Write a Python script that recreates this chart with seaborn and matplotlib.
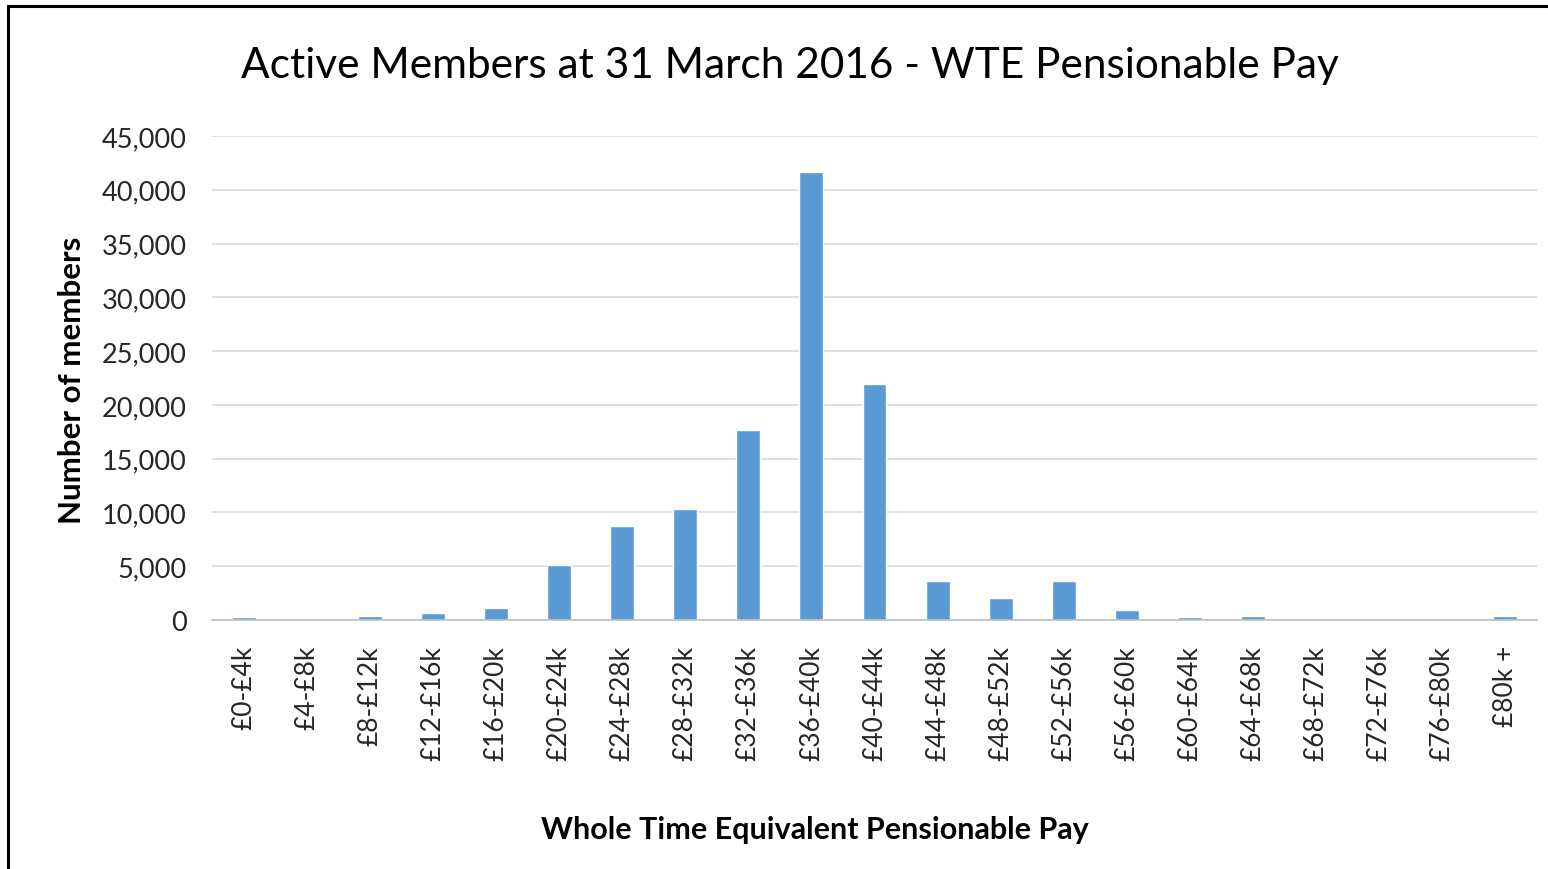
import matplotlib
matplotlib.use("Agg")
import matplotlib.pyplot as plt
import matplotlib.ticker as mticker
import pandas as pd
import seaborn as sns

bands = [
    "£0-£4k", "£4-£8k", "£8-£12k", "£12-£16k", "£16-£20k", "£20-£24k", "£24-£28k",
    "£28-£32k", "£32-£36k", "£36-£40k", "£40-£44k", "£44-£48k", "£48-£52k",
    "£52-£56k", "£56-£60k", "£60-£64k", "£64-£68k", "£68-£72k", "£72-£76k",
    "£76-£80k", "£80k +",
]
members = [
    250, 30, 350, 650, 1100, 5100, 8750, 10300, 17650, 41650, 21950,
    3600, 2000, 3600, 950, 250, 350, 0, 0, 0, 350,
]

df = pd.DataFrame({"band": bands, "members": members})

sns.set_theme(style="white")
plt.rcParams["font.family"] = ["Lato", "DejaVu Sans"]

fig = plt.figure(figsize=(15.48, 8.7), dpi=100)
ax = fig.add_axes([212 / 1548, 1 - 621 / 870, (1537 - 212) / 1548, (621 - 137) / 870])

sns.barplot(data=df, x="band", y="members", color="#5b9bd5", width=0.38,
            saturation=1, ax=ax)

ax.set_ylim(0, 45000)
ax.yaxis.set_major_locator(mticker.MultipleLocator(5000))
ax.yaxis.set_major_formatter(mticker.FuncFormatter(lambda v, p: f"{int(v):,}"))
ax.grid(axis="y", color="#d9d9d9", linewidth=1.2)
ax.set_axisbelow(True)
for s in ["top", "right", "left"]:
    ax.spines[s].set_visible(False)
ax.spines["bottom"].set_color("#bfbfbf")
ax.spines["bottom"].set_linewidth(1.2)

ax.tick_params(axis="y", labelsize=19.5, colors="#262626", length=0, pad=18)
ax.tick_params(axis="x", labelsize=19, colors="#262626", length=0, pad=18,
               labelrotation=90)

ax.set_xlabel("")
ax.set_ylabel("")
fig.text(72 / 1548, 1 - 380 / 870, "Number of members", rotation=90,
         ha="center", va="center", fontsize=22.5, fontweight="bold", color="#000000")
fig.text(815 / 1548, 1 - 830 / 870, "Whole Time Equivalent Pensionable Pay",
         ha="center", va="center", fontsize=22, fontweight="bold", color="#000000")
fig.text(790 / 1548, 1 - 66 / 870, "Active Members at 31 March 2016 - WTE Pensionable Pay",
         ha="center", va="center", fontsize=30.5, color="#000000")

# outer frame like the pasted chart object
frame = plt.Rectangle((8 / 1548, -0.01), 1.02, 1 - 7 / 870 + 0.01, transform=fig.transFigure,
                      fill=False, edgecolor="#000000", linewidth=2.2)
fig.patches.append(frame)

fig.savefig("out.png", dpi=100)
